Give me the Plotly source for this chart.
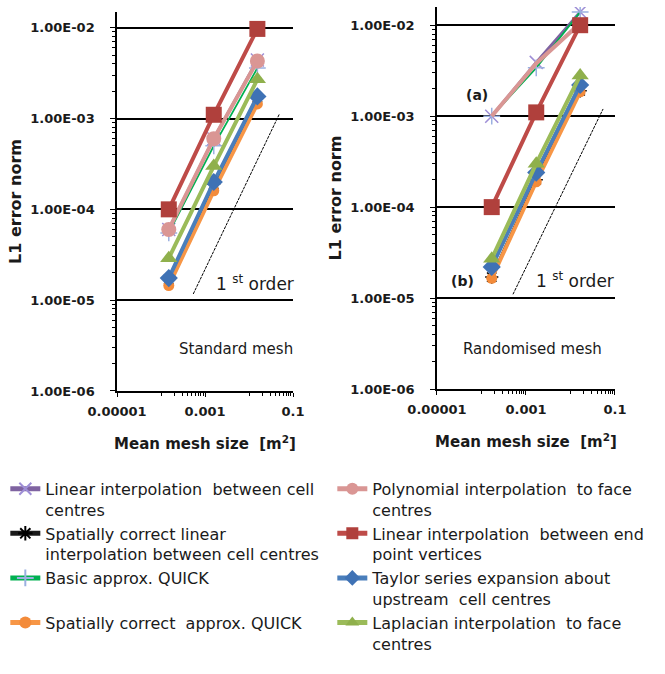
import plotly.graph_objects as go

# ---------------- data ----------------
x_std = [1.5e-4, 1.58e-3, 1.55e-2]
x_rnd = [1.7e-4, 1.7e-3, 1.65e-2]

names = [
    "Linear interpolation  between cell<br>centres",
    "Spatially correct linear<br>interpolation between cell centres",
    "Basic approx. QUICK",
    "Spatially correct  approx. QUICK",
    "Polynomial interpolation  to face<br>centres",
    "Linear interpolation  between end<br>point vertices",
    "Taylor series expansion about<br>upstream  cell centres",
    "Laplacian interpolation  to face<br>centres",
]

std_lin_cc = [6.0e-5, 6.0e-4, 4.4e-3]
std_sc_lin = [1.7e-5, 1.9e-4, 1.7e-3]
std_quick = [5.5e-5, 5.0e-4, 3.6e-3]
std_sc_quick = [1.45e-5, 1.6e-4, 1.45e-3]
std_poly = [6.0e-5, 6.0e-4, 4.3e-3]
std_lin_ep = [1.0e-4, 1.1e-3, 9.7e-3]
std_taylor = [1.75e-5, 2.0e-4, 1.75e-3]
std_laplace = [2.9e-5, 3.0e-4, 2.7e-3]

rnd_lin_cc = [1.0e-3, 3.9e-3, 1.4e-2]
rnd_sc_lin = [1.7e-5, 2.0e-4, 1.9e-3]
rnd_quick = [1.0e-3, 3.4e-3, 1.4e-2]
rnd_sc_quick = [1.65e-5, 1.9e-4, 1.85e-3]
rnd_poly = [1.0e-3, 3.8e-3, 1.05e-2]
rnd_lin_ep = [1.0e-4, 1.1e-3, 1.0e-2]
rnd_taylor = [2.2e-5, 2.4e-4, 2.2e-3]
rnd_laplace = [2.7e-5, 3.0e-4, 2.8e-3]

order_x_std = [5.4e-4, 4.9e-2]
order_y_std = [1.17e-5, 1.12e-3]
order_x_rnd = [5.1e-4, 5.4e-2]
order_y_rnd = [1.1e-5, 1.2e-3]

ytick_vals = [1e-6, 1e-5, 1e-4, 1e-3, 1e-2]
ytick_text = ["1.00E-06", "1.00E-05", "1.00E-04", "1.00E-03", "1.00E-02"]
xtick_vals = [1e-5, 1e-3, 1e-1]
xtick_text = ["0.00001", "0.001", "0.1"]

# ---------------- styles ----------------
styles = [
    dict(line=dict(color="#7F63A1", width=3), marker=dict(symbol="x-thin", size=13, line=dict(color="#9E8ED6", width=1.5))),
    dict(line=dict(color="#1A1A1A", width=3), marker=dict(symbol="asterisk", size=11, line=dict(color="#000000", width=1.5))),
    dict(line=dict(color="#00B050", width=1.8), marker=dict(symbol="cross-thin", size=12, line=dict(color="#9BB0E0", width=1.5))),
    dict(line=dict(color="#F79646", width=4), marker=dict(symbol="circle", size=11, color="#F38B3A")),
    dict(line=dict(color="#D99694", width=4), marker=dict(symbol="circle", size=15, color="#DA9694")),
    dict(line=dict(color="#BE4B48", width=4), marker=dict(symbol="square", size=16, color="#B0403C")),
    dict(line=dict(color="#4A7EBB", width=4), marker=dict(symbol="diamond", size=14, color="#3F72B5")),
    dict(line=dict(color="#9BBB59", width=4), marker=dict(symbol="triangle-up", size=15, color="#8FB04C")),
]
legend_ranks = [1, 3, 5, 7, 2, 4, 6, 8]

std_series = [std_lin_cc, std_sc_lin, std_quick, std_sc_quick, std_poly, std_lin_ep, std_taylor, std_laplace]
rnd_series = [rnd_lin_cc, rnd_sc_lin, rnd_quick, rnd_sc_quick, rnd_poly, rnd_lin_ep, rnd_taylor, rnd_laplace]

fig = go.Figure()

for i, (nm, ys) in enumerate(zip(names, std_series)):
    fig.add_trace(go.Scatter(x=x_std, y=ys, mode="lines+markers", name=nm,
                             legendrank=legend_ranks[i], showlegend=True,
                             xaxis="x", yaxis="y", **styles[i]))
for i, (nm, ys) in enumerate(zip(names, rnd_series)):
    mode = "lines" if i == 4 else "lines+markers"
    fig.add_trace(go.Scatter(x=x_rnd, y=ys, mode=mode, name=nm, showlegend=False,
                             xaxis="x2", yaxis="y2", **styles[i]))

fig.add_trace(go.Scatter(x=order_x_std, y=order_y_std, mode="lines", showlegend=False,
                         line=dict(color="#000000", width=1, dash="3px,1px"), xaxis="x", yaxis="y"))
fig.add_trace(go.Scatter(x=order_x_rnd, y=order_y_rnd, mode="lines", showlegend=False,
                         line=dict(color="#000000", width=1, dash="3px,1px"), xaxis="x2", yaxis="y2"))

tick_font = dict(family="DejaVu Sans", size=13, color="#1a1a1a", weight="bold")
ytitle_font = dict(family="DejaVu Sans", size=16, color="#1a1a1a", weight="bold")
xtitle_font = dict(family="DejaVu Sans", size=15, color="#1a1a1a", weight="bold")

y_minor = [k * 10.0 ** e for e in range(-6, -1) for k in range(2, 10)]
x_minor = [k * 10.0 ** e for e in (-4, -2) for k in range(1, 10)]


def yaxis_cfg(domain, rng, anchor):
    return dict(type="log", domain=domain, range=rng, anchor=anchor, automargin=False,
                tickvals=ytick_vals, ticktext=ytick_text,
                showline=True, linecolor="#000", linewidth=1.5, ticks="outside", ticklen=5,
                tickcolor="#000", tickwidth=1.3, showgrid=True, gridcolor="#000", gridwidth=1.5,
                zeroline=False, tickfont=tick_font, ticklabelstandoff=13,
                minor=dict(tickmode="array", tickvals=y_minor, ticks="outside", ticklen=3,
                           tickcolor="#000", tickwidth=1, showgrid=False),
                title=dict(text="L1 error norm", font=ytitle_font, standoff=5))


def xaxis_cfg(domain, anchor):
    return dict(type="log", domain=domain, range=[-5, -1], anchor=anchor, automargin=False,
                tickvals=xtick_vals, ticktext=xtick_text, showline=True, linecolor="#000",
                linewidth=1.5, ticks="outside", ticklen=4, tickcolor="#000", tickwidth=1.3,
                showgrid=False, zeroline=False, tickfont=tick_font, ticklabelstandoff=4,
                minor=dict(tickmode="array", tickvals=x_minor, ticks="outside", ticklen=3,
                           tickcolor="#000", tickwidth=1, showgrid=False),
                title=dict(text="Mean mesh size  [m<sup>2</sup>]", font=xtitle_font, standoff=20))


fig.update_layout(
    width=665, height=674, autosize=False,
    margin=dict(l=0, r=0, t=0, b=0, autoexpand=False),
    paper_bgcolor="white", plot_bgcolor="white",
    xaxis=xaxis_cfg([0.176, 0.4406], "y"),
    yaxis=yaxis_cfg([0.4199, 0.9822], [-6, -1.827], "x"),
    xaxis2=xaxis_cfg([0.6571, 0.9248], "y2"),
    yaxis2=yaxis_cfg([0.4228, 0.9896], [-6, -1.80], "x2"),
    legend=dict(orientation="h", x=0.008, xanchor="left", y=0.300, yanchor="top",
                entrywidth=282, entrywidthmode="pixels", valign="top",
                font=dict(family="DejaVu Sans", size=16, color="#1a1a1a"),
                itemsizing="constant", tracegroupgap=0),
    showlegend=True,
)

ann_font = dict(family="DejaVu Sans", size=17, color="#1a1a1a")
lab_font = dict(family="DejaVu Sans", size=15, color="#1a1a1a")
ab_font = dict(family="DejaVu Sans", size=14, color="#1a1a1a", weight="bold")
annotations = [
    dict(text="1 <sup>st</sup> order", x=255 / 665, y=1 - 283 / 674, font=ann_font),
    dict(text="1 <sup>st</sup> order", x=575 / 665, y=1 - 280 / 674, font=ann_font),
    dict(text="Standard mesh", x=236 / 665, y=1 - 349 / 674, font=lab_font),
    dict(text="Randomised mesh", x=532 / 665, y=1 - 349 / 674, font=lab_font),
    dict(text="(a)", x=477 / 665, y=1 - 95 / 674, font=ab_font),
    dict(text="(b)", x=462 / 665, y=1 - 281 / 674, font=ab_font),
]
for a in annotations:
    fig.add_annotation(xref="paper", yref="paper", showarrow=False,
                       xanchor="center", yanchor="middle", **a)

fig.write_html("out.html", config={"displayModeBar": False},
               post_script="document.body.style.margin='0';document.body.style.overflow='hidden';")
